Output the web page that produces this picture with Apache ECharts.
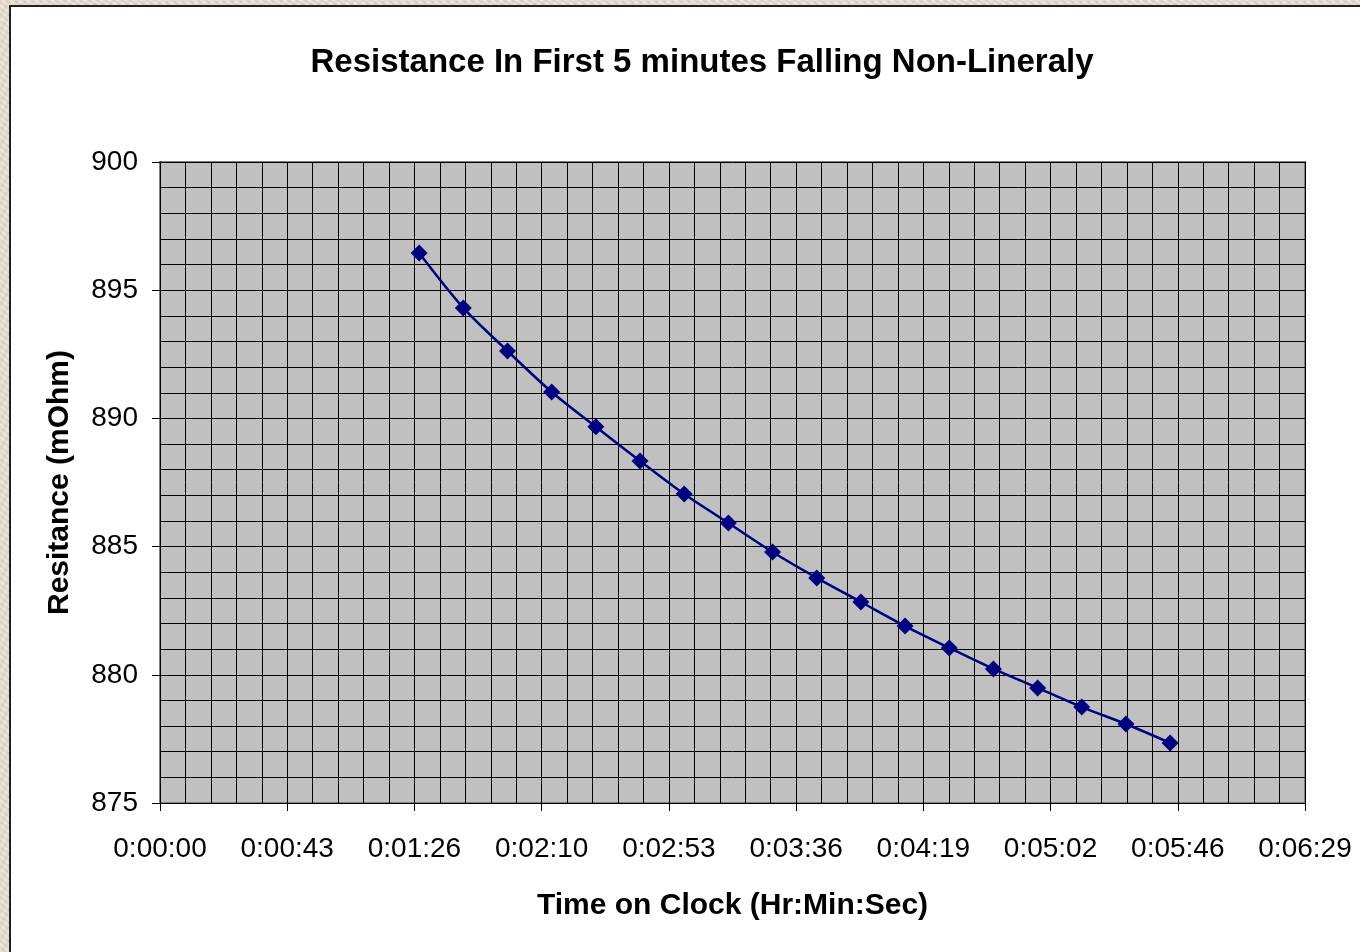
<!DOCTYPE html>
<html>
<head>
<meta charset="utf-8">
<script src="https://cdn.jsdelivr.net/npm/echarts@6/dist/echarts.min.js"></script>
<style>
  html, body { margin:0; padding:0; width:1360px; height:952px; overflow:hidden; }
  body {
    background-color:#E4DCCB;
    background-image:
      repeating-linear-gradient(37deg, rgba(255,255,255,0.18) 0px, rgba(255,255,255,0.18) 2px, rgba(0,0,0,0.03) 3px, rgba(0,0,0,0.03) 5px),
      repeating-linear-gradient(-61deg, rgba(255,255,255,0.12) 0px, rgba(255,255,255,0.12) 3px, rgba(0,0,0,0.04) 4px, rgba(0,0,0,0.0) 7px);
  }
  #frame { position:absolute; left:9px; top:5px; width:1400px; height:1000px; background:#fff; border:2px solid #222; }
  #chart { position:absolute; left:0; top:0; width:1360px; height:952px; }
</style>
</head>
<body>
<div id="frame"></div>
<div id="chart"></div>
<script>
// Data (time in seconds on clock, resistance in mOhm)
const timeSeconds = [88, 103, 118, 133, 148, 163, 178, 193, 208, 223, 238, 253, 268, 283, 298, 313, 328, 343];
const resistance  = [896.45, 894.31, 892.63, 891.03, 889.67, 888.34, 887.05, 885.92, 884.79, 883.78, 882.84, 881.90, 881.05, 880.23, 879.49, 878.74, 878.08, 877.34];
const titleText = 'Resistance In First 5 minutes Falling Non-Lineraly';
const xAxisTitle = 'Time on Clock (Hr:Min:Sec)';
const yAxisTitle = 'Resitance (mOhm)';
const xTickStep = 43.2; // seconds (0.0005 day)
const xMax = 388.8;
const yMin = 875, yMax = 900, yStep = 5;

function fmtTime(sec) {
  const s = Math.round(sec);
  const h = Math.floor(s / 3600);
  const m = Math.floor((s % 3600) / 60);
  const ss = s % 60;
  return h + ':' + String(m).padStart(2, '0') + ':' + String(ss).padStart(2, '0');
}

const chart = echarts.init(document.getElementById('chart'), null, { renderer: 'canvas' });
const font = 'Liberation Sans, Arial, sans-serif';
chart.setOption({
  backgroundColor: 'transparent',
  animation: false,
  title: {
    text: titleText,
    left: 697, top: 41, textAlign: 'center',
    textStyle: { fontFamily: font, fontSize: 33, fontWeight: 'bold', color: '#000' }
  },
  grid: { left: 160, right: 55, top: 162, bottom: 149, show: true, backgroundColor: '#C0C0C0', borderColor: '#808080', borderWidth: 2 },
  xAxis: {
    type: 'value', min: 0, max: xMax, interval: xTickStep,
    name: xAxisTitle, nameLocation: 'middle', nameGap: 88,
    nameTextStyle: { fontFamily: font, fontSize: 30, fontWeight: 'bold', color: '#000' },
    axisLine: { show: true, lineStyle: { color: '#000', width: 1 } },
    axisTick: { show: true, length: 8, lineStyle: { color: '#000' } },
    axisLabel: { formatter: fmtTime, fontFamily: font, fontSize: 28, color: '#000', margin: 32, showMinLabel: true, showMaxLabel: true },
    splitLine: { show: true, lineStyle: { color: '#000', width: 1 } },
    minorTick: { show: false, splitNumber: 5 },
    minorSplitLine: { show: true, lineStyle: { color: '#000', width: 1 } }
  },
  yAxis: {
    type: 'value', min: yMin, max: yMax, interval: yStep,
    name: yAxisTitle, nameLocation: 'middle', nameGap: 85, nameRotate: 90,
    nameTextStyle: { fontFamily: font, fontSize: 30, fontWeight: 'bold', color: '#000' },
    axisLine: { show: true, lineStyle: { color: '#000', width: 1 } },
    axisTick: { show: true, length: 8, lineStyle: { color: '#000' } },
    axisLabel: { fontFamily: font, fontSize: 28, color: '#000', margin: 22 },
    splitLine: { show: true, lineStyle: { color: '#000', width: 1 } },
    minorTick: { show: false, splitNumber: 5 },
    minorSplitLine: { show: true, lineStyle: { color: '#000', width: 1 } }
  },
  series: [{
    type: 'line',
    data: timeSeconds.map((t, i) => [t, resistance[i]]),
    smooth: 0.3,
    symbol: 'diamond', symbolSize: 17,
    lineStyle: { color: '#000080', width: 2.5 },
    itemStyle: { color: '#000080' }
  }]
});
</script>
</body>
</html>
